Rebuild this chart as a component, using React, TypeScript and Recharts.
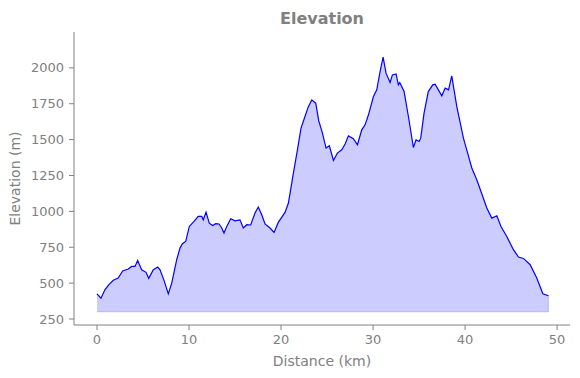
import { Area, ComposedChart, ReferenceLine, XAxis, YAxis } from 'recharts';

// distance along the route (km) and elevation (m)
const distanceKm = [
  0.0, 0.43, 0.87, 1.3, 1.77, 2.3, 2.79, 3.4, 3.77, 4.13, 4.42, 4.85, 5.33, 5.62, 6.12, 6.6, 6.85, 7.32, 7.75,
  8.12, 8.66, 9.02, 9.28, 9.64, 10.03, 10.54, 11.0, 11.38, 11.55, 11.85, 12.2, 12.57, 12.9, 13.26, 13.55, 13.8,
  14.1, 14.53, 15.0, 15.54, 15.9, 16.27, 16.7, 17.17, 17.53, 17.9, 18.26, 18.8, 19.24, 19.7, 20.43, 20.8, 21.34,
  21.78, 22.17, 22.6, 22.97, 23.34, 23.77, 24.1, 24.5, 24.89, 25.25, 25.69, 26.12, 26.6, 26.96, 27.32, 27.86,
  28.3, 28.77, 29.13, 29.5, 30.04, 30.4, 30.76, 31.09, 31.41, 31.85, 32.1, 32.5, 32.75, 32.9, 33.37, 33.84,
  34.38, 34.67, 35.0, 35.18, 35.54, 36.0, 36.49, 36.74, 37.1, 37.47, 37.83, 38.2, 38.55, 39.1, 39.82, 40.18,
  40.73, 41.27, 41.92, 42.36, 42.9, 43.45, 43.9, 44.53, 45.25, 45.8, 46.34, 47.07, 47.79, 48.45, 49.05,
];
const elevationM = [
  425, 395, 455, 490, 520, 535, 585, 598, 616, 616, 658, 593, 575, 533, 593, 612, 593, 512, 425,
  500, 663, 744, 774, 790, 895, 930, 965, 965, 941, 995, 918, 902, 914, 912, 884, 849,
  895, 948, 934, 941, 884, 907, 905, 988, 1030, 976, 912, 884, 853, 923, 993, 1058, 1267,
  1429, 1580, 1661, 1730, 1777, 1754, 1630, 1545, 1441, 1457, 1355, 1406, 1429, 1469, 1526, 1506,
  1464, 1568, 1603, 1673, 1800, 1847, 1974, 2075, 1963, 1898, 1951, 1958, 1882, 1898, 1835, 1661,
  1445, 1499, 1487, 1510, 1685, 1835, 1882, 1886, 1847, 1805, 1859, 1847, 1944, 1730, 1510, 1429,
  1302, 1220, 1104, 1023, 953, 969, 895, 825, 733, 682, 672, 628, 535, 426, 412,
];
const xTicks = [0, 10, 20, 30, 40, 50];
const yTicks = [250, 500, 750, 1000, 1250, 1500, 1750, 2000];
const fillBase = 300;

const data = distanceKm.map((d, i) => ({ distance: d, elevation: elevationM[i] }));

const GREY = '#808080';
const FONT = '"DejaVu Sans", sans-serif';

export default function App() {
  const first = distanceKm[0];
  const last = distanceKm[distanceKm.length - 1];
  return (
    <div style={{ position: 'absolute', left: 0, top: 0, width: 580, height: 378, background: '#fff', fontFamily: FONT }}>
      <div
        style={{
          position: 'absolute',
          left: 74,
          width: 496,
          top: 9,
          textAlign: 'center',
          fontSize: 16,
          lineHeight: '20px',
          fontWeight: 'bold',
          color: GREY,
        }}
      >
        Elevation
      </div>
      <ComposedChart width={580} height={378} data={data} margin={{ top: 32, right: 10, bottom: 0, left: 0 }}>
        <XAxis
          dataKey="distance"
          type="number"
          domain={[-2.5, 51.4]}
          ticks={xTicks}
          height={53}
          stroke={GREY}
          tickSize={5}
          tickMargin={5}
          tick={{ fill: GREY, fontSize: 13, fontFamily: FONT }}
          label={{
            content: ({ viewBox }: any) => (
              <text
                x={viewBox.x + viewBox.width / 2}
                y={viewBox.y + 36}
                textAnchor="middle"
                dominantBaseline="central"
                fill={GREY}
                fontSize={14}
                fontFamily={FONT}
              >
                Distance (km)
              </text>
            ),
          }}
        />
        <YAxis
          type="number"
          domain={[208, 2250]}
          ticks={yTicks}
          width={74}
          stroke={GREY}
          tickSize={5}
          tickMargin={5}
          tick={{ fill: GREY, fontSize: 13, fontFamily: FONT }}
          label={{
            content: ({ viewBox }: any) => {
              const cx = 15;
              const cy = viewBox.y + viewBox.height / 2;
              return (
                <text
                  x={cx}
                  y={cy}
                  transform={`rotate(-90 ${cx} ${cy})`}
                  textAnchor="middle"
                  dominantBaseline="central"
                  fill={GREY}
                  fontSize={14}
                  fontFamily={FONT}
                >
                  Elevation (m)
                </text>
              );
            },
          }}
        />
        <Area
          type="linear"
          dataKey="elevation"
          baseValue={fillBase}
          stroke="#0000ff"
          strokeWidth={1.2}
          fill="#0000ff"
          fillOpacity={0.2}
          dot={false}
          activeDot={false}
          isAnimationActive={false}
        />
        <ReferenceLine
          segment={[{ x: first, y: fillBase }, { x: last, y: fillBase }]}
          stroke="#0000ff"
          strokeOpacity={0.2}
        />
        <ReferenceLine
          segment={[{ x: last, y: fillBase }, { x: last, y: elevationM[elevationM.length - 1] }]}
          stroke="#0000ff"
          strokeOpacity={0.2}
        />
      </ComposedChart>
    </div>
  );
}
